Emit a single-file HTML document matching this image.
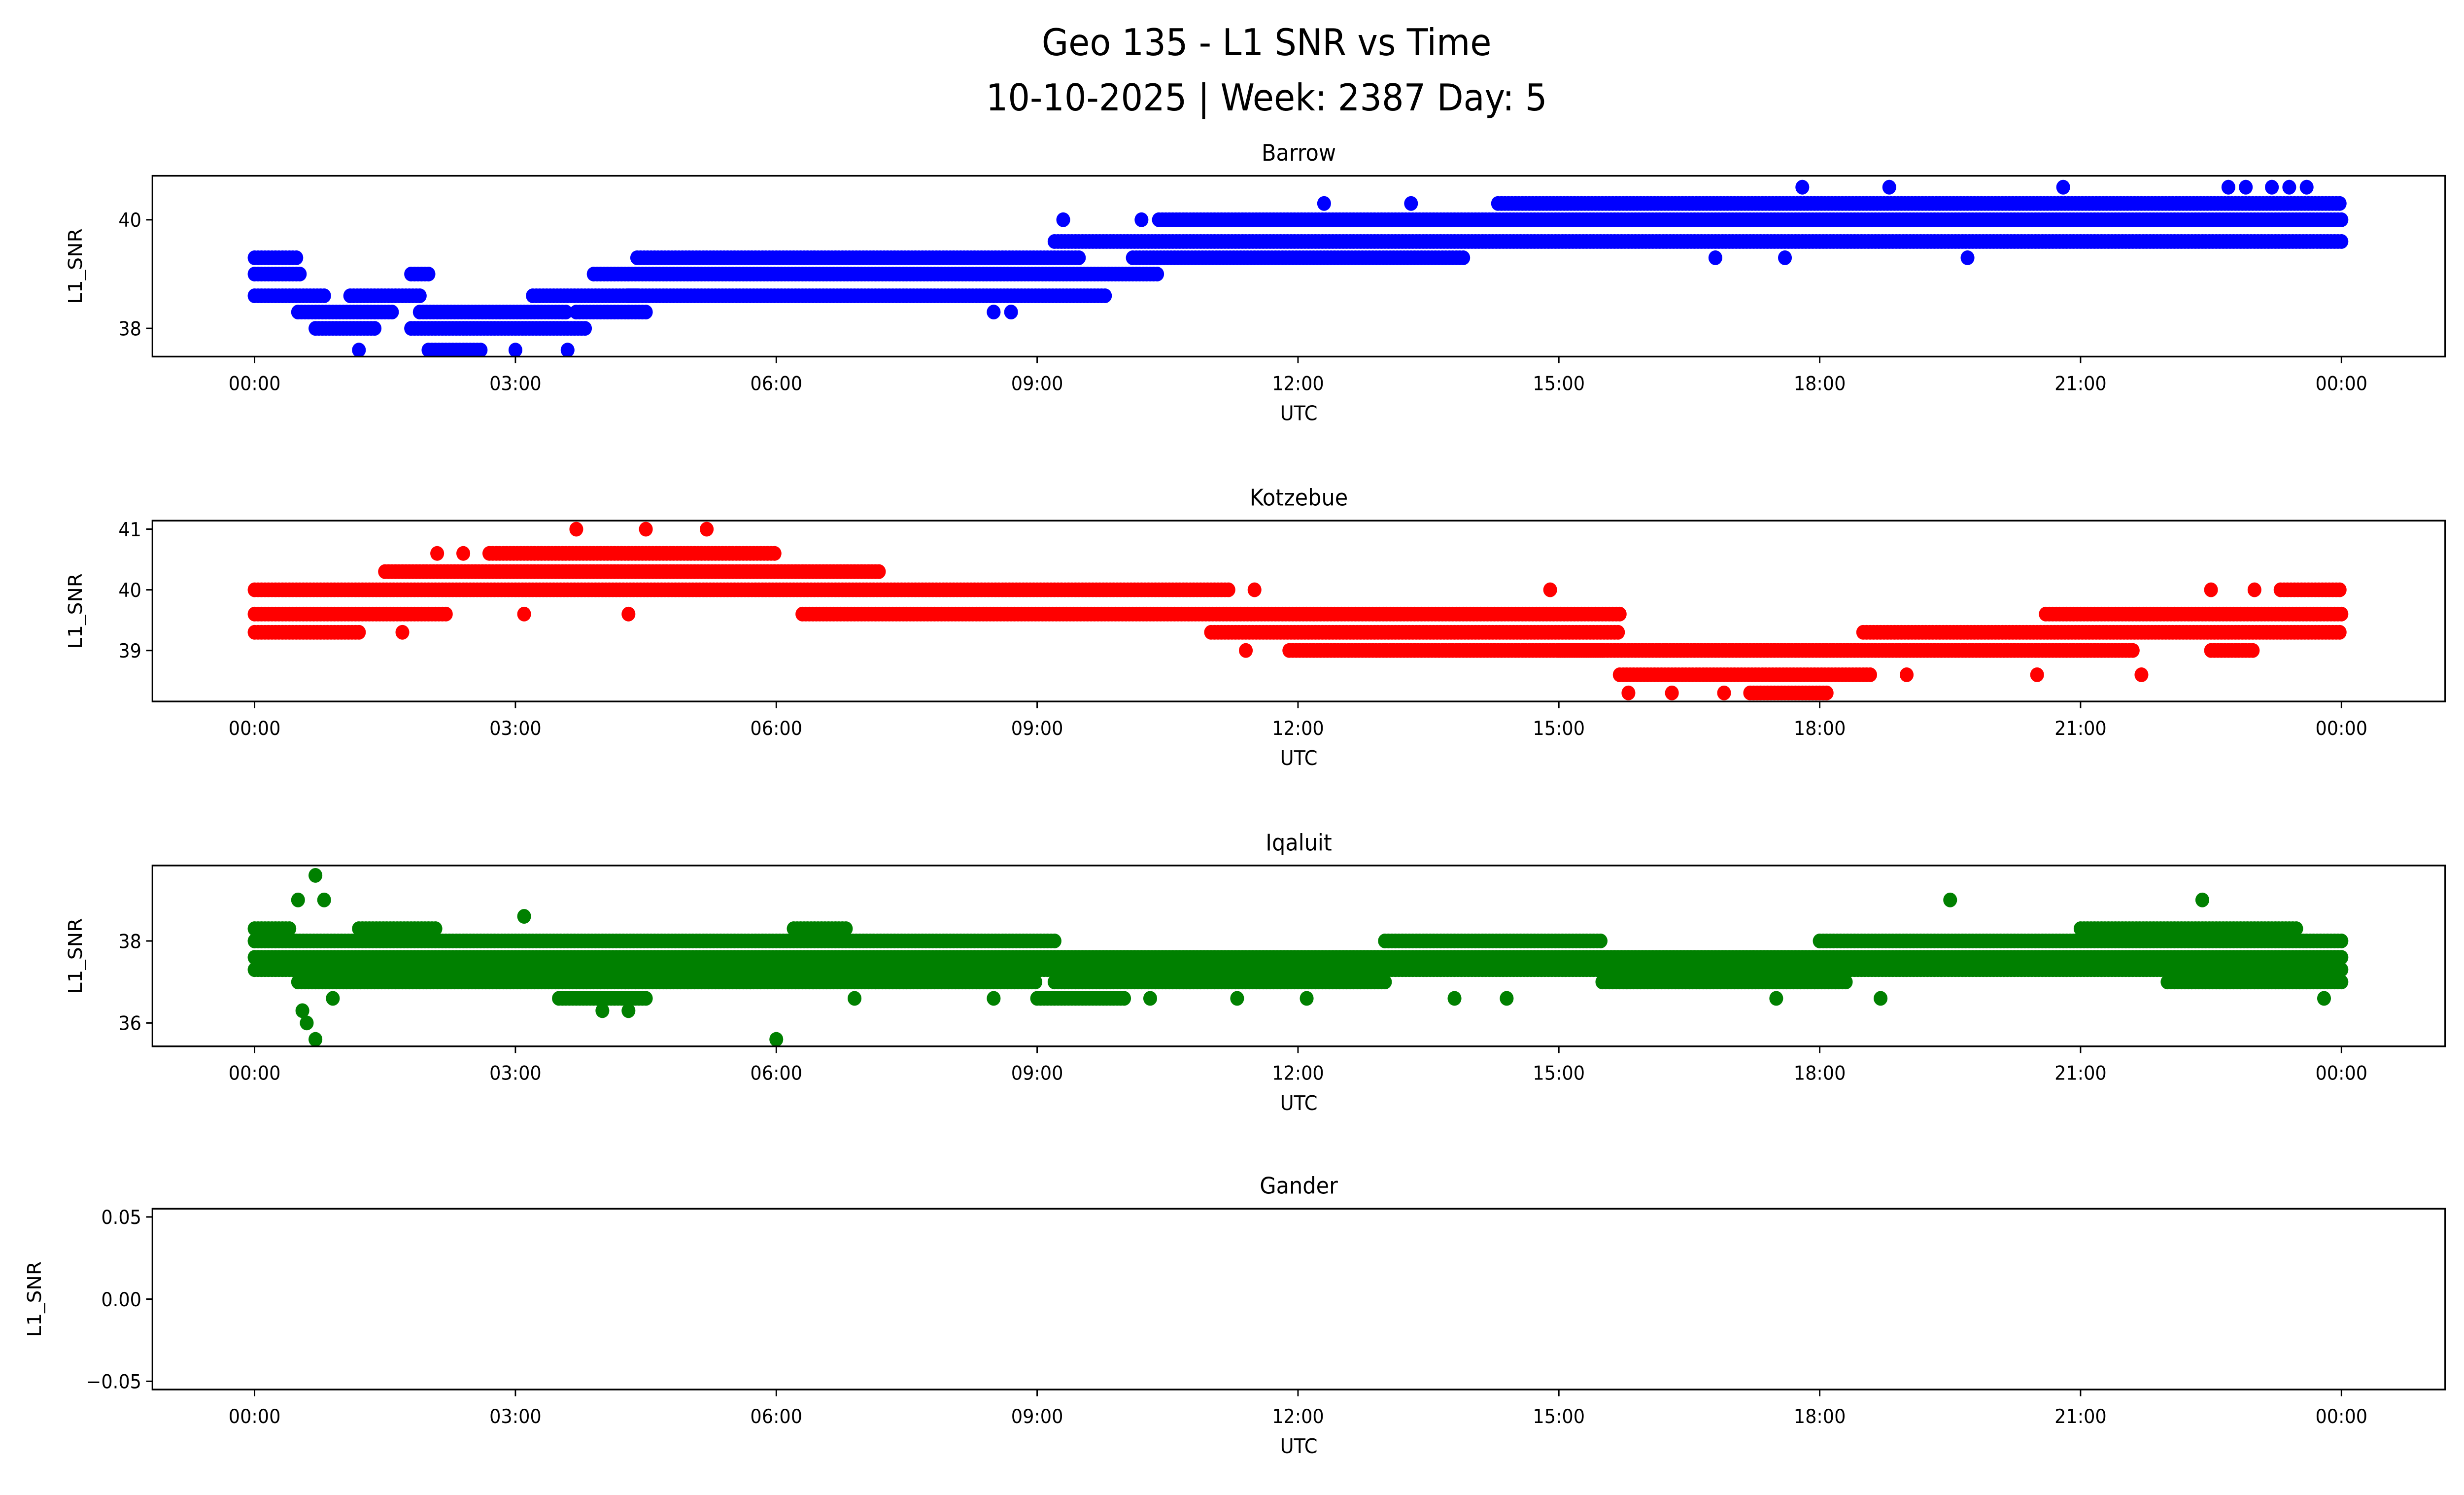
<!DOCTYPE html>
<html><head><meta charset="utf-8"><style>html,body{margin:0;padding:0;background:#fff;width:100%;height:100%;overflow:hidden}svg{display:block;width:100vw;height:100vh}text{font-family:"DejaVu Sans","Liberation Sans",sans-serif;fill:#000}</style></head>
<body>
<svg id="fig" viewBox="0 0 1568 893" preserveAspectRatio="none" xmlns="http://www.w3.org/2000/svg">
<rect width="1568" height="893" fill="#fff"/>
<text x="806" y="33" font-size="22" text-anchor="middle">Geo 135 - L1 SNR vs Time</text>
<text x="806" y="66" font-size="22" text-anchor="middle">10-10-2025 | Week: 2387 Day: 5</text>
<g id="plots"></g>
</svg>
<script>
const xTickLabels = ["00:00","03:00","06:00","09:00","12:00","15:00","18:00","21:00","00:00"];
const xTickHours = [0,3,6,9,12,15,18,21,24];

const barrowSegStart = [0,0,0,0.5,0.7,1.1,1.8,1.9,1.8,2.0,3.2,3.7,4.3,3.9,4.4,9.2,10.4,10.1,14.3];
const barrowSegEnd   = [0.5,0.55,0.8,1.6,1.4,1.9,2.0,3.6,3.8,2.6,4.4,4.5,9.8,10.4,9.5,24,24,13.9,24];
const barrowSegLevel = [39.3,39.0,38.6,38.3,38.0,38.6,39.0,38.3,38.0,37.6,38.6,38.3,38.6,39.0,39.3,39.6,40.0,39.3,40.3];
const barrowPtHour  = [1.2,3.0,3.6,9.3,10.2,12.3,13.3,17.8,18.8,20.8,22.7,22.9,23.2,23.4,23.6,16.8,17.6,19.7,8.5,8.7];
const barrowPtLevel = [37.6,37.6,37.6,40.0,40.0,40.3,40.3,40.6,40.6,40.6,40.6,40.6,40.6,40.6,40.6,39.3,39.3,39.3,38.3,38.3];

const kotzSegStart = [0,0,0,1.5,2.7,6.3,11,11.9,15,15.7,17.2,18.5,20.6,22.5,23.3];
const kotzSegEnd   = [1.2,2.2,11.2,7.2,6.0,15.7,15.7,15.5,21.6,18.6,18.1,24,24,23.0,24];
const kotzSegLevel = [39.3,39.6,40.0,40.3,40.6,39.6,39.3,39.0,39.0,38.6,38.3,39.3,39.6,39.0,40.0];
const kotzPtHour  = [3.7,4.5,5.2,3.1,4.3,2.1,2.4,11.5,11.4,15.8,16.3,16.9,21.7,19.0,20.5,1.7,14.9,22.5,23.0];
const kotzPtLevel = [41,41,41,39.6,39.6,40.6,40.6,40.0,39.0,38.3,38.3,38.3,38.6,38.6,38.6,39.3,40.0,40.0,40.0];

const iqaSegStart = [0,0,0,13,18,0,1.2,6.2,21,0.5,9,15.5,22,9.2,3.5];
const iqaSegEnd   = [24,24,9.2,15.5,24,0.4,2.1,6.8,23.5,9,10,18.3,24,13,4.5];
const iqaSegLevel = [37.6,37.3,38.0,38.0,38.0,38.3,38.3,38.3,38.3,37.0,36.6,37.0,37.0,37.0,36.6];
const iqaPtHour  = [0.7,0.6,0.7,6.0,0.5,0.8,19.5,22.4,3.1,4.0,4.3,10.3,11.3,12.1,13.8,14.4,17.5,18.7,23.8,0.9,6.9,8.5,0.55];
const iqaPtLevel = [39.6,36.0,35.6,35.6,39.0,39.0,39.0,39.0,38.6,36.3,36.3,36.6,36.6,36.6,36.6,36.6,36.6,36.6,36.6,36.6,36.6,36.6,36.3];

const panels = [
 {name:"Barrow",key:"barrow",top:105,ymin:37.48,ymax:40.81,ticks:[38,40],tl:["38","40"],color:"#0000ff",ss:barrowSegStart,se:barrowSegEnd,sl:barrowSegLevel,ph:barrowPtHour,pl:barrowPtLevel},
 {name:"Kotzebue",key:"kotzebue",top:311,ymin:38.16,ymax:41.14,ticks:[39,40,41],tl:["39","40","41"],color:"#ff0000",ss:kotzSegStart,se:kotzSegEnd,sl:kotzSegLevel,ph:kotzPtHour,pl:kotzPtLevel},
 {name:"Iqaluit",key:"iqaluit",top:517,ymin:35.43,ymax:39.84,ticks:[36,38],tl:["36","38"],color:"#008000",ss:iqaSegStart,se:iqaSegEnd,sl:iqaSegLevel,ph:iqaPtHour,pl:iqaPtLevel},
 {name:"Gander",key:"gander",top:722,ymin:-0.055,ymax:0.055,ticks:[-0.05,0,0.05],tl:["\u22120.05","0.00","0.05"],color:"#000",ss:[],se:[],sl:[],ph:[],pl:[]}
];
const NS="http://www.w3.org/2000/svg";
const root=document.getElementById('plots');
const L=97,R=1556,H=108;
const xs=h=>162+h*1328/24;
function mk(tag,attrs,parent){const e=document.createElementNS(NS,tag);for(const k in attrs)e.setAttribute(k,attrs[k]);parent.appendChild(e);return e;}
panels.forEach(p=>{
  const g=mk('g',{},root);
  
  
  const ys=v=>p.top+H-(v-p.ymin)/(p.ymax-p.ymin)*H;
  const cp='clip-'+p.key;
  const cl=mk('clipPath',{id:cp},g);mk('rect',{x:L,y:p.top,width:R-L,height:H},cl);
  const dots=mk('g',{'clip-path':'url(#'+cp+')',fill:p.color},g);
  
  
  for(let i=0;i<p.ss.length;i++){
    for(let h=p.ss[i];h<=p.se[i]+1e-9;h+=0.04){
      mk('circle',{cx:xs(h),cy:ys(p.sl[i]),r:4.4},dots);
    }
  }
  for(let i=0;i<p.ph.length;i++){
    const c=mk('circle',{cx:xs(p.ph[i]),cy:ys(p.pl[i]),r:4.4},dots);
    
    
  }
  const fr=mk('rect',{x:L,y:p.top,width:R-L,height:H,fill:'none',stroke:'#000','stroke-width':1},g);
  
  
  const t=mk('text',{x:(L+R)/2,y:p.top-9,'font-size':13.5,'text-anchor':'middle'},g);t.textContent=p.name;
  
  
  xTickHours.forEach((h,i)=>{
    mk('line',{x1:xs(h),x2:xs(h),y1:p.top+H,y2:p.top+H+4,stroke:'#000','stroke-width':0.9},g);
    const tx=mk('text',{x:xs(h),y:p.top+H+20,'font-size':11.5,'text-anchor':'middle'},g);tx.textContent=xTickLabels[i];
    
    
  });
  p.ticks.forEach((v,i)=>{
    mk('line',{x1:L-4,x2:L,y1:ys(v),y2:ys(v),stroke:'#000','stroke-width':0.9},g);
    const ty=mk('text',{x:L-7,y:ys(v)+4.2,'font-size':11.5,'text-anchor':'end'},g);ty.textContent=p.tl[i];
    
    
  });
  const xl=mk('text',{x:(L+R)/2,y:p.top+H+38,'font-size':12,'text-anchor':'middle'},g);xl.textContent='UTC';
  
  
  const yx=p.key==='gander'?26:52;
  const yl=mk('text',{x:yx,y:p.top+H/2,'font-size':12,'text-anchor':'middle',transform:'rotate(-90 '+yx+' '+(p.top+H/2)+')'},g);yl.textContent='L1_SNR';
  
  
});
</script>
</body></html>
